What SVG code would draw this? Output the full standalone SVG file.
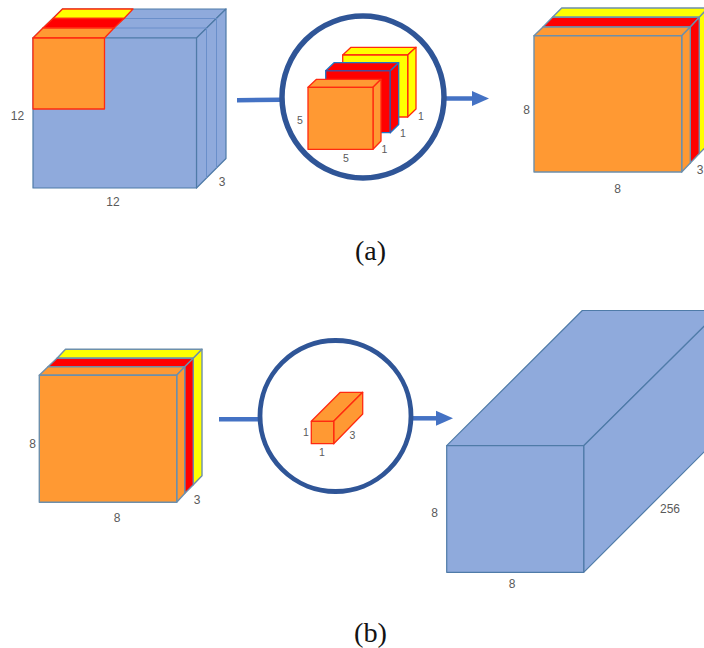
<svg xmlns="http://www.w3.org/2000/svg" width="704" height="648" viewBox="0 0 704 648">
<style>
text{font-family:"Liberation Sans",Arial,sans-serif;fill:#595959;text-anchor:middle;opacity:.99}
.l{font-size:12px}.s{font-size:10.5px}
.cap{font-family:"Liberation Serif","Times New Roman",serif;font-size:27px;fill:#111}
.blue{fill:#8faadc;stroke:#4f7ba8;stroke-width:1.2;stroke-linejoin:round}
.thin{fill:none;stroke:#6a8fca;stroke-width:1}
.org{fill:#ff9933}.red{fill:#ff0000}.yel{fill:#ffff00}
.rs path,.rs rect{stroke:#ff2a10;stroke-width:1.3;stroke-linejoin:round}
.gs path,.gs rect{stroke:#6d8fab;stroke-width:1.4;stroke-linejoin:round}
.bs path{stroke:#1f78c8;stroke-width:1.3;stroke-linejoin:round}
.ring{fill:#fff;stroke:#2f5597}
.wire{fill:none;stroke:#4472c4;stroke-width:4.5}
</style>
<defs><marker id="ah" markerUnits="userSpaceOnUse" markerWidth="18" markerHeight="16" refX="0" refY="8" orient="auto"><path d="M0 0.500L17 8L0 15.500Z" fill="#4472c4"/></marker></defs>

<g id="connectors">
<path class="wire" d="M237 100.300L281 99.800"/>
<path class="wire" d="M445 98.500H472" marker-end="url(#ah)"/>
<path class="wire" d="M219 419.200H259"/>
<path class="wire" d="M412 418.300H436" marker-end="url(#ah)"/>
</g>

<g id="cube-12x12x3">
<path class="blue" d="M33 38H196.500L226 9H62.500Z"/>
<path class="blue" d="M196.500 38L226 9V158.500L196.500 188Z"/>
<rect class="blue" x="33" y="38" width="163.500" height="150"/>
<path class="thin" d="M206.500 28V178M216.500 18.500V168M114 28H206.500M124 18.500H216.500"/>
<g class="rs">
<path class="yel" d="M53 18.500H124L133 9H62.500Z"/>
<path class="red" d="M43 28H114L124 18.500H53Z"/>
<path class="org" d="M33 38H104.500L114 28H43Z"/>
<rect class="org" x="33" y="38" width="71.500" height="71"/>
</g>
<text class="l" x="17.500" y="120">12</text>
<text class="l" x="113" y="206">12</text>
<text class="l" x="222" y="186">3</text>
</g>

<g id="kernels-5x5x1">
<circle class="ring" cx="363" cy="97" r="81" stroke-width="5.500"/>
<g class="rs">
<path class="yel" d="M342.700 55L351 47.300H416L407.700 55Z"/>
<path class="yel" d="M407.700 55L416 47.300V109L407.700 117Z"/>
<path class="yel" d="M342.700 55H407.700V117H342.700Z"/>
</g>
<g class="bs">
<path class="red" d="M325.700 70.700L334 62.700H398.700L390.300 70.700Z"/>
<path class="red" d="M390.300 70.700L398.700 62.700V124.500L390.300 132.700Z"/>
<path class="red" d="M325.700 70.700H390.300V132.700H325.700Z"/>
<path d="M325.700 70.700H390.300V132.700" fill="none" style="stroke:#4a4a9a"/>
</g>
<g class="rs">
<path class="org" d="M308 87.300L316.500 79.300H381L373 87.300Z"/>
<path class="org" d="M373 87.300L381 79.300V141L373 149.300Z"/>
<rect class="org" x="308" y="87.300" width="65" height="62"/>
</g>
<text class="s" x="300" y="124">5</text>
<text class="s" x="346" y="162">5</text>
<text class="s" x="384.500" y="153">1</text>
<text class="s" x="403" y="137">1</text>
<text class="s" x="421" y="120">1</text>
</g>

<g id="cube-8x8x3-a">
<g class="gs">
<path class="yel" d="M552.500 17.300L561.700 8H708L699.300 17.300Z"/>
<path class="yel" d="M699.300 17.300L708 8V144.500L699.300 153.500Z"/>
<path class="red" d="M543 27L552.500 17.300H699.300L690.300 27Z"/>
<path class="red" d="M690.300 27L699.300 17.300V153.500L690.300 163Z"/>
<path class="org" d="M534 35.700L543 27H690.300L681.700 35.700Z"/>
<path class="org" d="M681.700 35.700L690.300 27V163L681.700 172Z"/>
<rect class="org" x="534" y="35.700" width="147.700" height="136.300"/>
</g>
<text class="l" x="526.500" y="114">8</text>
<text class="l" x="617.500" y="193">8</text>
<text class="l" x="700" y="174">3</text>
</g>

<text class="cap" x="370.500" y="260" textLength="31" lengthAdjust="spacingAndGlyphs">(a)</text>

<g id="cube-8x8x3-b">
<g class="gs">
<path class="yel" d="M57 358.300L65.500 349.300H202L193.300 358.300Z"/>
<path class="yel" d="M193.300 358.300L202 349.300V475.700L193.300 484.700Z"/>
<path class="red" d="M48 366.700L57 358.300H193.300L184.700 366.700Z"/>
<path class="red" d="M184.700 366.700L193.300 358.300V484.700L184.700 493.500Z"/>
<path class="org" d="M39.300 375.300L48 366.700H184.700L176.700 375.300Z"/>
<path class="org" d="M176.700 375.300L184.700 366.700V493.500L176.700 502.300Z"/>
<rect class="org" x="39.300" y="375.300" width="137.400" height="127"/>
</g>
<text class="l" x="32.500" y="448">8</text>
<text class="l" x="117" y="522">8</text>
<text class="l" x="197" y="504">3</text>
</g>

<g id="kernel-1x1x3">
<circle class="ring" cx="335.500" cy="416" r="75.500" stroke-width="4.800"/>
<g class="rs">
<path class="org" d="M311.300 421.300L340.300 392.300H362.700L333.700 421.300Z"/>
<path class="org" d="M333.700 421.300L362.700 392.300V414L333.700 443.700Z"/>
<rect class="org" x="311.300" y="421.300" width="22.400" height="22.400"/>
</g>
<text class="s" x="306" y="436">1</text>
<text class="s" x="322" y="456">1</text>
<text class="s" x="352.500" y="439">3</text>
</g>

<g id="cuboid-8x8x256">
<path class="blue" d="M446.700 445.700L582.300 310.500H720L583.700 445.700Z"/>
<path class="blue" d="M583.700 445.700L720 310.500V436L583.700 572.300Z"/>
<rect class="blue" x="446.700" y="445.700" width="137" height="126.600"/>
<text class="l" x="434.500" y="517">8</text>
<text class="l" x="512" y="588">8</text>
<text class="l" x="670" y="513">256</text>
</g>

<text class="cap" x="370.500" y="642" textLength="33" lengthAdjust="spacingAndGlyphs">(b)</text>
</svg>
